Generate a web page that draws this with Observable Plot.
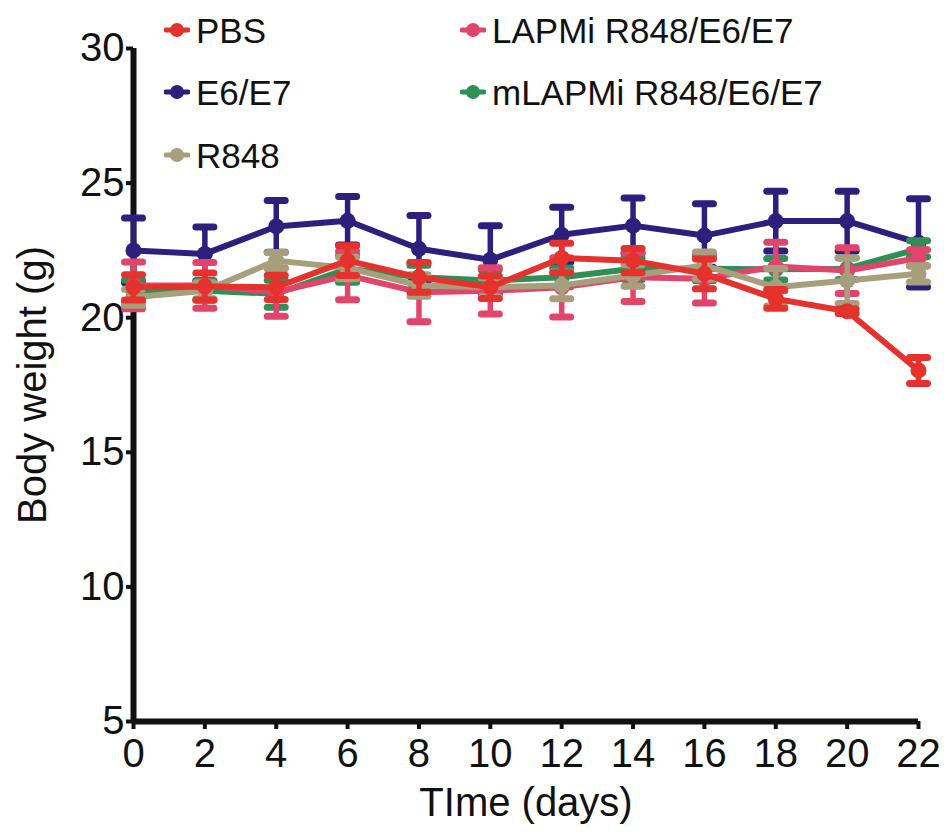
<!DOCTYPE html>
<html>
<head>
<meta charset="utf-8">
<script src="https://cdn.jsdelivr.net/npm/d3@7"></script>
<script src="https://cdn.jsdelivr.net/npm/@observablehq/plot@0.6"></script>
<style>
  html, body { margin: 0; padding: 0; background: #fff; }
  #wrap { position: relative; width: 947px; height: 836px; font-family: "Liberation Sans", Arial, sans-serif; }
  #legend { position: absolute; left: 0; top: 0; }
  .item { position: absolute; display: flex; align-items: center; font-size: 35px; color: #111; white-space: nowrap; line-height: 1; }
  .item svg { margin-right: 6px; }
</style>
</head>
<body>
<div id="wrap"><div id="legend"></div></div>
<script>
// Days of measurement
const days = [0, 2, 4, 6, 8, 10, 12, 14, 16, 18, 20, 22];

// Group names, colours and draw order (back to front)
const groups = ["E6/E7", "mLAPMi R848/E6/E7", "LAPMi R848/E6/E7", "R848", "PBS"];
const colors = ["#2f1f7c", "#2f8f57", "#e2456b", "#a79e7c", "#e5322d"];

// Mean body weight (g) per group
const meanE6E7  = [22.5, 22.37, 23.39, 23.6, 22.56, 22.15, 23.08, 23.42, 23.05, 23.59, 23.59, 22.78];
const meanMLAPM = [21.0, 21.0, 20.89, 21.82, 21.5, 21.38, 21.5, 21.82, 21.82, 21.8, 21.82, 22.56];
const meanLAPM  = [21.2, 21.2, 20.95, 21.57, 20.95, 21.0, 21.13, 21.5, 21.45, 21.9, 21.75, 22.22];
const meanR848  = [20.76, 21.0, 22.12, 21.85, 21.2, 21.13, 21.2, 21.57, 21.94, 21.13, 21.38, 21.63];
const meanPBS   = [21.13, 21.16, 21.13, 22.12, 21.5, 21.13, 22.22, 22.12, 21.63, 20.7, 20.24, 18.04];

// Standard error per group
const semE6E7  = [1.2, 1.0, 0.96, 0.9, 1.24, 1.27, 1.02, 1.03, 1.18, 1.11, 1.11, 1.64];
const semMLAPM = [0.4, 0.35, 0.5, 0.5, 0.45, 0.4, 0.35, 0.4, 0.45, 0.4, 0.4, 0.3];
const semLAPM  = [0.87, 0.85, 0.9, 0.9, 1.1, 0.86, 1.1, 0.9, 0.9, 0.9, 0.85, 0.3];
const semR848  = [0.3, 0.3, 0.3, 0.4, 0.4, 0.35, 0.5, 0.4, 0.5, 0.7, 0.85, 0.3];
const semPBS   = [0.47, 0.5, 0.45, 0.55, 0.55, 0.42, 0.55, 0.45, 0.55, 0.35, 0.08, 0.48];

// Axis ticks and titles
const xTicks = [0, 2, 4, 6, 8, 10, 12, 14, 16, 18, 20, 22];
const yTicks = [5, 10, 15, 20, 25, 30];
const xTitle = "TIme (days)";
const yTitle = "Body weight (g)";

// Legend: order of entries as listed in the key
const legendOrder = ["PBS", "E6/E7", "R848", "LAPMi R848/E6/E7", "mLAPMi R848/E6/E7"];

const means = [meanE6E7, meanMLAPM, meanLAPM, meanR848, meanPBS];
const sems = [semE6E7, semMLAPM, semLAPM, semR848, semPBS];

const rows = groups.flatMap((g, i) =>
  days.map((d, j) => ({group: g, day: d, mean: means[i][j], lo: means[i][j] - sems[i][j], hi: means[i][j] + sems[i][j]}))
);

// Horizontal cap used at the end of each error bar
const cap = {draw(ctx) { ctx.moveTo(-9, 0); ctx.lineTo(9, 0); }};

const color = {domain: groups, range: colors};

const marks = [];
for (const g of groups) {
  const data = rows.filter(r => r.group === g);
  marks.push(
    Plot.ruleX(data, {x: "day", y1: "lo", y2: "hi", stroke: "group", strokeWidth: 5.5}),
    Plot.dot(data, {x: "day", y: "hi", symbol: cap, stroke: "group", strokeWidth: 7, strokeLinecap: "round", fill: "none", r: 5}),
    Plot.dot(data, {x: "day", y: "lo", symbol: cap, stroke: "group", strokeWidth: 7, strokeLinecap: "round", fill: "none", r: 5}),
    Plot.line(data, {x: "day", y: "mean", stroke: "group", strokeWidth: 6}),
    Plot.dot(data, {x: "day", y: "mean", fill: "group", r: 8})
  );
}

const chart = Plot.plot({
  width: 947,
  height: 836,
  marginLeft: 133,
  marginRight: 29,
  marginTop: 48,
  marginBottom: 115,
  style: {fontFamily: "'Liberation Sans', Arial, sans-serif", background: "transparent", color: "#111"},
  x: {domain: [0, 22]},
  y: {domain: [5, 30]},
  color,
  marks: [
    Plot.axisY(yTicks, {tickSize: 7, tickPadding: 2, strokeWidth: 4, fontSize: 40, label: null, stroke: "#111"}),
    Plot.axisX(xTicks, {tickSize: 8, tickPadding: 9, strokeWidth: 4, fontSize: 40, label: null, stroke: "#111"}),
    Plot.ruleX([0], {y1: 5, y2: 30, strokeWidth: 6, stroke: "#111"}),
    Plot.ruleY([5], {x1: 0, x2: 22, strokeWidth: 6, stroke: "#111"}),
    Plot.text([yTitle], {frameAnchor: "left", textAnchor: "middle", rotate: -90, dx: -100, fontSize: 40, fill: "#111"}),
    Plot.text([xTitle], {frameAnchor: "bottom", textAnchor: "middle", dy: 94, fontSize: 40, fill: "#111"}),
    ...marks
  ]
});

const wrap = document.getElementById("wrap");
wrap.insertBefore(chart, wrap.firstChild);

// Key: two columns, dot-and-line marker with group name
const legend = document.getElementById("legend");
const slots = [[164, 30], [164, 92], [164, 155], [460, 30], [460, 92]];
legendOrder.forEach((g, i) => {
  const c = colors[groups.indexOf(g)];
  const [left, cy] = slots[i];
  const el = document.createElement("div");
  el.className = "item";
  el.style.left = left + "px";
  el.style.top = (cy - 20) + "px";
  el.style.height = "40px";
  el.innerHTML = `<svg width="26" height="16"><line x1="2" x2="24" y1="8" y2="8" stroke="${c}" stroke-width="5" stroke-linecap="round"/><circle cx="13" cy="8" r="7" fill="${c}"/></svg><span>${g}</span>`;
  legend.appendChild(el);
});
</script>
</body>
</html>
